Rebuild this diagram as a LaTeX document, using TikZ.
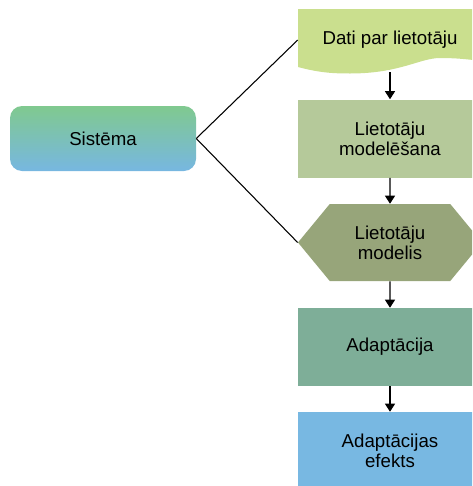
\documentclass[tikz,border=0pt]{standalone}
\usepackage{fontspec}
\setmainfont{Liberation Sans}
\usepackage{tikz}
\usetikzlibrary{positioning,shapes.symbols,arrows.meta}
\definecolor{sysTop}{HTML}{80C98F}
\definecolor{sysBot}{HTML}{77B7E1}
\definecolor{datiC}{HTML}{CADF8E}
\definecolor{modC}{HTML}{B5C99A}
\definecolor{hexC}{HTML}{97A57A}
\definecolor{adaC}{HTML}{7EAE98}
\definecolor{efC}{HTML}{78B8E2}
\tikzset{
  basic/.style  = {rectangle, inner sep=0pt, align=center,
                   font=\fontsize{14}{15}\selectfont},
  root/.style   = {basic, rounded corners=9pt, top color=sysTop,
                   bottom color=sysBot, minimum width=139.5pt,
                   minimum height=48.75pt},
  stepbox/.style = {basic, minimum width=138pt, minimum height=58.5pt},
  post/.style={-{Triangle[width=7.5pt,length=6pt]}, line width=0.8pt},
  edge/.style={line width=0.8pt}
}
\begin{document}
\begin{tikzpicture}[x=0.75pt,y=-0.75pt]
    \clip (0,0) rectangle (472,486);
    % wavy data shape
    \fill[datiC] (298,9) -- (482,9) -- (482,61)
      .. controls (472,60) and (460,58) .. (440,58)
      .. controls (420,58) and (400,73.5) .. (350,73.5)
      .. controls (335,73.5) and (320,73) .. (298,67) -- cycle;
    \node[root] (sys) at (103,138.5) {Sistēma};
    \node[stepbox, minimum height=48pt] (dati) at (390,40) {Dati par lietotāju};
    \node[stepbox, fill=modC] (modelesana) at (390,138.5) {Lietotāju\\modelēšana};
    \node[basic, signal, signal to=west and east, signal pointer angle=101,
          fill=hexC, minimum width=138pt, minimum height=57.75pt]
          (modelis) at (390,242.5) {Lietotāju\\modelis};
    \node[stepbox, fill=adaC] (adapt) at (390,347) {Adaptācija};
    \node[stepbox, fill=efC] (efekts) at (390,451) {Adaptācijas\\efekts};
    \draw[edge] (sys.east) -- (dati.west);
    \draw[edge] (sys.east) -- (modelis.west);
    \draw[post] (dati.south) -- (modelesana);
    \draw[post] (modelesana) -- (modelis);
    \draw[post] (modelis) -- (adapt);
    \draw[post] (adapt) -- (efekts);
\end{tikzpicture}
\end{document}
